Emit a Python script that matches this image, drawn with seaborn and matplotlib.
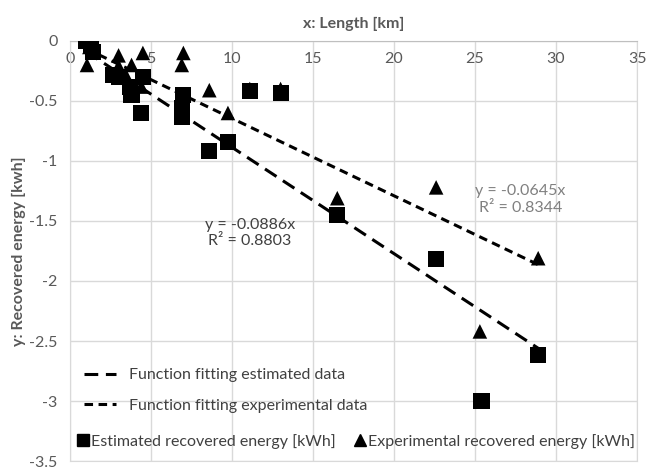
import numpy as np
import pandas as pd
import matplotlib
matplotlib.use("Agg")
import matplotlib.pyplot as plt
import seaborn as sns
from matplotlib.lines import Line2D

# data
est_x = [1.0, 1.3, 1.4, 2.65, 3.0, 3.7, 3.8, 4.5, 4.4, 7.0, 6.9, 6.9, 8.6, 9.75,
         11.1, 13.0, 16.5, 22.6, 25.4, 28.9]
est_y = [0.0, -0.04, -0.09, -0.28, -0.3, -0.38, -0.45, -0.3, -0.6, -0.45, -0.56,
         -0.63, -0.92, -0.84, -0.42, -0.43, -1.45, -1.82, -3.0, -2.62]

exp_x = [1.0, 1.2, 1.05, 3.0, 3.0, 3.5, 3.8, 4.5, 4.4, 7.0, 6.9, 8.6, 9.75,
         11.1, 13.0, 16.5, 22.6, 25.3, 28.9]
exp_y = [0.0, -0.05, -0.2, -0.12, -0.21, -0.3, -0.2, -0.1, -0.38, -0.1, -0.2,
         -0.41, -0.6, -0.4, -0.4, -1.31, -1.22, -2.42, -1.81]

est_slope, est_r2 = -0.0886, 0.8803
exp_slope, exp_r2 = -0.0645, 0.8344
fit_x = [1.0, 28.9]

sns.set_style("white")
plt.rcParams['font.family'] = ['Lato', 'DejaVu Sans']

grey = '#595959'
fs = 11.5
fig = plt.figure(figsize=(6.57, 4.71), dpi=100)
ax = fig.add_axes([0.1065, 0.0212, 0.8631, 0.8918])

est = pd.DataFrame({'x': est_x, 'y': est_y})
exp = pd.DataFrame({'x': exp_x, 'y': exp_y})

fx = np.array(fit_x)
ax.plot(fx, est_slope * fx, color='black', lw=2.2, dashes=(4.5, 2.5), zorder=2)
ax.plot(fx, exp_slope * fx, color='black', lw=2.2, dashes=(2.8, 1.8), zorder=2)

sns.scatterplot(data=exp, x='x', y='y', marker='^', s=110, color='black',
                edgecolor='none', ax=ax, zorder=3)
sns.scatterplot(data=est, x='x', y='y', marker='s', s=135, color='black',
                edgecolor='none', ax=ax, zorder=4)

ax.set_xlim(0, 35)
ax.set_ylim(-3.5, 0)
ax.set_xticks(np.arange(0, 36, 5))
ax.set_yticks(np.arange(-3.5, 0.01, 0.5))
ax.set_yticklabels(['-3.5', '-3', '-2.5', '-2', '-1.5', '-1', '-0.5', '0'])
ax.grid(True, color='#d9d9d9', lw=1)
ax.set_axisbelow(True)
for s in ax.spines.values():
    s.set_color('#d9d9d9')
ax.spines['top'].set_color('#bfbfbf')

ax.xaxis.tick_top()
ax.xaxis.set_label_position('top')
ax.tick_params(axis='x', length=0, pad=-18, labelsize=fs, labelcolor=grey)
ax.tick_params(axis='y', length=0, pad=9, labelsize=fs, labelcolor=grey)
ax.set_xlabel('x: Length [km]', fontsize=fs, fontweight='bold', color=grey,
              labelpad=9.5)
ax.set_ylabel('y: Recovered energy [kwh]', fontsize=fs, fontweight='bold',
              color=grey, labelpad=2)

ax.text(11.1, -1.6, f'y = {est_slope}x\nR² = {est_r2}', ha='center', va='center',
        fontsize=fs, color='#404040', linespacing=1.25)
ax.text(27.8, -1.32, f'y = {exp_slope}x\nR² = {exp_r2}', ha='center', va='center',
        fontsize=fs, color='#808080', linespacing=1.25)

line_handles = [
    Line2D([], [], color='black', lw=2.2, dashes=(4.5, 2.5)),
    Line2D([], [], color='black', lw=2.2, dashes=(2.8, 1.8)),
]
leg1 = ax.legend(line_handles, ['Function fitting estimated data',
                                'Function fitting experimental data'],
                 loc='upper left', bbox_to_anchor=(0.0, 0.255), frameon=False,
                 fontsize=fs, labelcolor='#404040', handlelength=2.0,
                 labelspacing=1.0)
ax.add_artist(leg1)
mark_handles = [
    Line2D([], [], marker='s', ls='none', color='black', markersize=8),
    Line2D([], [], marker='^', ls='none', color='black', markersize=8),
]
ax.legend(mark_handles, ['Estimated recovered energy [kWh]',
                         'Experimental recovered energy [kWh]'],
          loc='lower left', bbox_to_anchor=(-0.01, -0.005), ncol=2, frameon=False,
          fontsize=fs, labelcolor='#404040', handlelength=0.6,
          handletextpad=0.2, columnspacing=1.2)

fig.savefig('out.png', dpi=100)
